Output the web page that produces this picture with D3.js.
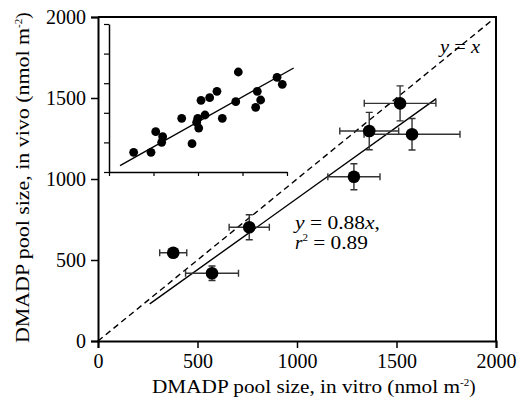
<!doctype html>
<html>
<head>
<meta charset="UTF-8">
<style>
  body { margin: 0; background: #fff; }
  svg text { font-family: "Liberation Serif", "Times New Roman", serif; fill: #000; }
</style>
</head>
<body>
<svg id="chart" width="519" height="405"></svg>
<script src="https://cdn.jsdelivr.net/npm/d3@7"></script>
<script>
// main panel: in vitro vs in vivo pool sizes (nmol m-2)
const invitro    = [1518, 1363, 1578, 1286, 760, 378, 573];
const invivo     = [1467, 1296, 1276, 1014, 702, 545, 418];
const invitroErr = [180, 148, 241, 131, 101, 68, 133];
const invivoErr  = [108, 115, 97, 80, 77, 22, 45];
const mainTicks  = [0, 500, 1000, 1500, 2000];
const slope = 0.88;
const fitRange = [260, 1700];

// inset: unlabeled scatter with fitted line
const insetX = [277, 472, 525, 603, 592, 817, 933, 997, 985, 1008, 1034, 1079, 1131, 1213, 1273, 1424, 1453, 1648, 1666, 1704, 1888, 1947];
const insetY = [333, 333, 681, 596, 502, 907, 478, 907, 840, 743, 1211, 963, 1255, 1363, 907, 1188, 1689, 1093, 1363, 1216, 1600, 1481];
const insetFitX = [124, 2075];
const insetFitY = [106, 1757];
const insetXTicks = [0, 500, 1000, 1500, 2000];
const insetYTicks = [0, 500, 1000, 1500, 2000, 2500];

const svg = d3.select("#chart");

const x = d3.scaleLinear().domain([0, 2000]).range([98, 496]);
const y = d3.scaleLinear().domain([0, 2000]).range([341, 17]);

// frame (top and right)
svg.append("path")
    .attr("d", `M${x(0)},${y(2000)}H${x(2000)}V${y(0)}`)
    .attr("fill", "none").attr("stroke", "#000").attr("stroke-width", 2);

const xAxis = svg.append("g")
    .attr("transform", `translate(0,${y(0)})`)
    .call(d3.axisBottom(x).tickValues(mainTicks).tickFormat(d3.format("d")).tickSize(7).tickPadding(6));
const yAxis = svg.append("g")
    .attr("transform", `translate(${x(0)},0)`)
    .call(d3.axisLeft(y).tickValues(mainTicks).tickFormat(d3.format("d")).tickSize(7).tickPadding(5));
[xAxis, yAxis].forEach(g => {
    g.attr("font-family", "Liberation Serif").attr("font-size", 20);
    g.select(".domain").attr("stroke-width", 2);
    g.selectAll(".tick line").attr("stroke-width", 1.5);
});

// axis titles
const xt = svg.append("text")
    .attr("x", 152).attr("y", 393)
    .style("font-size", "19px");
xt.append("tspan").text("DMADP pool size, in vitro (nmol m")
    .attr("textLength", 308).attr("lengthAdjust", "spacingAndGlyphs");
xt.append("tspan").attr("dy", -7).style("font-size", "11px").text("-2");
xt.append("tspan").attr("dy", 7).text(")");

const yt = svg.append("text")
    .attr("transform", "translate(29,343) rotate(-90)")
    .style("font-size", "19px");
yt.append("tspan").text("DMADP pool size, in vivo (nmol m")
    .attr("textLength", 315).attr("lengthAdjust", "spacingAndGlyphs");
yt.append("tspan").attr("dy", -7).style("font-size", "11px").text("-2");
yt.append("tspan").attr("dy", 7).text(")");

// 1:1 line
svg.append("line")
    .attr("x1", x(0)).attr("y1", y(0))
    .attr("x2", x(1985)).attr("y2", y(1985))
    .attr("stroke", "#000").attr("stroke-width", 1.4)
    .attr("stroke-dasharray", "6,4");

// fitted line
svg.append("line")
    .attr("x1", x(fitRange[0])).attr("y1", y(fitRange[0] * slope))
    .attr("x2", x(fitRange[1])).attr("y2", y(fitRange[1] * slope))
    .attr("stroke", "#000").attr("stroke-width", 1.4);

// error bars
const cap = 3.5;
const eb = svg.append("g").attr("stroke", "#333").attr("stroke-width", 1.4).attr("fill", "none");
invitro.forEach((v, i) => {
    const cx = x(v), cy = y(invivo[i]);
    const x0 = x(v - invitroErr[i]), x1 = x(v + invitroErr[i]);
    const y0 = y(invivo[i] - invivoErr[i]), y1 = y(invivo[i] + invivoErr[i]);
    eb.append("path").attr("d",
        `M${x0},${cy}H${x1}M${x0},${cy - cap}V${cy + cap}M${x1},${cy - cap}V${cy + cap}` +
        `M${cx},${y0}V${y1}M${cx - cap},${y0}H${cx + cap}M${cx - cap},${y1}H${cx + cap}`);
});

svg.append("g").selectAll("circle")
    .data(invitro)
    .join("circle")
    .attr("cx", d => x(d))
    .attr("cy", (d, i) => y(invivo[i]))
    .attr("r", 6.3)
    .attr("fill", "#000");

// annotations
const a1 = svg.append("text").attr("x", 295).attr("y", 229).style("font-size", "19px")
    .attr("textLength", 85).attr("lengthAdjust", "spacingAndGlyphs");
a1.append("tspan").style("font-style", "italic").text("y");
a1.append("tspan").text(" = 0.88");
a1.append("tspan").style("font-style", "italic").text("x");
a1.append("tspan").text(",");

const a2 = svg.append("text").attr("x", 295).attr("y", 249).style("font-size", "19px");
a2.append("tspan").style("font-style", "italic").text("r");
a2.append("tspan").attr("dy", -8).style("font-size", "11px").text("2");
a2.append("tspan").attr("dy", 8).text(" = 0.89")
    .attr("textLength", 60).attr("lengthAdjust", "spacingAndGlyphs");

const a3 = svg.append("text").attr("x", 440).attr("y", 53).style("font-size", "19px")
    .attr("textLength", 40).attr("lengthAdjust", "spacingAndGlyphs");
a3.append("tspan").style("font-style", "italic").text("y");
a3.append("tspan").text(" = ");
a3.append("tspan").style("font-style", "italic").text("x");

// inset
const ix = d3.scaleLinear().domain([0, 2000]).range([109, 287]);
const iy = d3.scaleLinear().domain([0, 2500]).range([172, 24]);

const ixAxis = svg.append("g")
    .attr("transform", `translate(0,${iy(0)})`)
    .call(d3.axisBottom(ix).tickValues(insetXTicks).tickSize(4).tickSizeOuter(0).tickFormat(""));
const iyAxis = svg.append("g")
    .attr("transform", `translate(${ix(0)},0)`)
    .call(d3.axisLeft(iy).tickValues(insetYTicks).tickSize(5).tickSizeOuter(0).tickFormat(""));
[ixAxis, iyAxis].forEach(g => {
    g.select(".domain").attr("stroke-width", 1.5);
    g.selectAll(".tick line").attr("stroke-width", 1.2);
});

svg.append("line")
    .attr("x1", ix(insetFitX[0])).attr("y1", iy(insetFitY[0]))
    .attr("x2", ix(insetFitX[1])).attr("y2", iy(insetFitY[1]))
    .attr("stroke", "#000").attr("stroke-width", 1.4);

svg.append("g").selectAll("circle")
    .data(insetX)
    .join("circle")
    .attr("cx", d => ix(d))
    .attr("cy", (d, i) => iy(insetY[i]))
    .attr("r", 4.4)
    .attr("fill", "#000");
</script>
</body>
</html>
